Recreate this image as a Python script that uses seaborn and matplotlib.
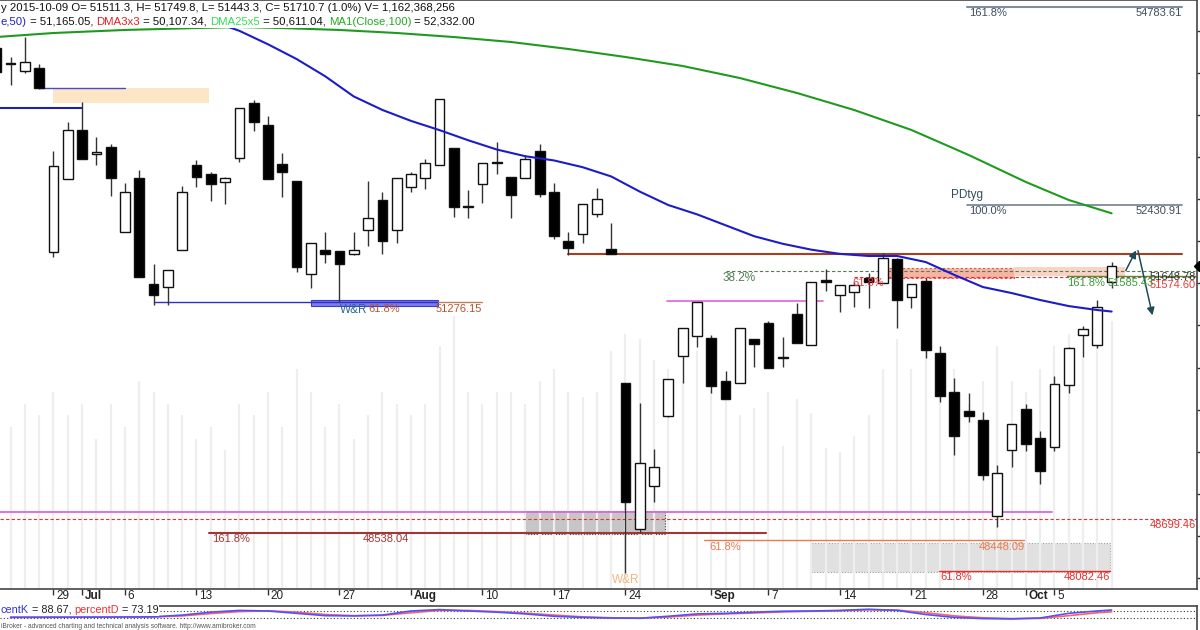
import numpy as np
import pandas as pd
import seaborn as sns
import matplotlib.pyplot as plt
from matplotlib import transforms
from matplotlib.patches import Rectangle

sns.set_theme(style="white")
plt.rcParams['font.family'] = ['Liberation Sans', 'DejaVu Sans']

# ---- data: daily bars, index 0 = 2015-06-29 (one step per weekday) ----
bar_idx = list(range(-4, 75))
opens = [54296, 54110, 54022, 54058,
         51872, 52739, 53322, 53036, 53120, 52110, 52751, 51492, 51456, 51896,
         52906, 52799, 52704, 52989, 53642, 53381, 52918, 52716, 51611, 51896,
         51884, 51848, 52134, 52490, 52134, 52644, 52751, 52906, 53108, 52419,
         52680, 52941, 52763, 52751, 53072, 52585, 52003, 52086, 52324, 51908,
         50316, 48581, 49092, 49924, 50637, 50874, 50851, 50340, 50316, 50839,
         51029, 50625, 51136, 50767, 51540, 51361, 51397, 51563, 51504, 51789,
         51338, 51528, 50672, 50209, 49983, 49876, 48736, 49520, 50007, 49663,
         49556, 50292, 50886, 50767, 51511.3]
highs = [54331, 54189, 54426, 54106,
         53072, 53417, 53654, 53238, 53155, 52692, 52846, 51730, 51658, 52656,
         52965, 52823, 52763, 53583, 53678, 53488, 53048, 52716, 51979, 52110,
         51884, 52110, 52716, 52585, 52751, 52823, 52977, 53690, 53108, 52609,
         52930, 53179, 52763, 53025, 53155, 52692, 52110, 52442, 52633, 52217,
         50316, 50078, 49532, 50363, 50969, 51278, 50886, 50459, 50969, 50839,
         51053, 50862, 51266, 51516, 51670, 51480, 51516, 51623, 51860, 51801,
         51492, 51563, 50756, 50375, 50197, 49971, 49342, 49829, 50066, 49746,
         50399, 50744, 50993, 51302, 51749.8]
lows = [54011, 53856, 53999, 53809,
        51813, 52739, 52977, 52906, 52538, 52110, 51575, 51243, 51243, 51896,
        52644, 52478, 52442, 52941, 53310, 52739, 52526, 51635, 51445, 51742,
        51278, 51837, 51944, 51848, 51979, 52585, 52621, 52906, 52288, 52276,
        52454, 52799, 52276, 52751, 52526, 52027, 51837, 51979, 52288, 51848,
        48059, 48534, 48902, 49912, 50316, 50744, 50197, 50126, 50316, 50506,
        50494, 50506, 50791, 50767, 51409, 51159, 51219, 51207, 51504, 50969,
        51207, 50613, 50090, 49461, 49853, 49164, 48605, 49318, 49508, 49116,
        49508, 50197, 50625, 50732, 51443.3]
closes = [54011, 54100, 54129, 53821,
          52894, 53322, 52977, 53060, 52751, 52585, 51575, 51361, 51658, 52585,
          52763, 52680, 52751, 53583, 53417, 52739, 52823, 51694, 51979, 51848,
          51730, 51896, 52276, 52003, 52751, 52799, 52930, 53690, 52407, 52410,
          52930, 52935, 52549, 52977, 52561, 52062, 51920, 52442, 52502, 51848,
          48902, 49366, 49318, 50363, 50969, 51278, 50280, 50126, 50969, 50779,
          50494, 50615, 50791, 51516, 51516, 51480, 51480, 51516, 51801, 51302,
          51492, 50708, 50162, 49686, 49924, 49223, 49247, 49829, 49591, 49271,
          50304, 50732, 50957, 51219, 51710.7]
# volume, billions
volume = [0.75, 0.70, 0.80, 0.75,
          0.85, 0.75, 0.80, 0.65, 0.80, 0.70, 0.90, 0.85, 0.80, 0.75,
          0.65, 0.70, 0.60, 0.80, 0.75, 0.85, 0.70, 0.95, 0.85, 0.70,
          0.80, 0.65, 0.75, 0.85, 0.80, 0.75, 0.80, 1.05, 1.18, 0.85,
          0.80, 0.85, 0.85, 0.80, 0.90, 0.95, 0.85, 0.83, 0.85, 1.03,
          1.10, 1.08, 0.99, 0.95, 0.90, 1.03, 0.86, 0.83, 0.75, 0.78,
          0.85, 0.62, 0.82, 0.76, 0.61, 0.59, 0.66, 0.75, 0.95, 1.08,
          0.95, 1.10, 1.00, 0.95, 0.80, 0.90, 1.05, 0.90, 0.85, 0.95,
          1.05, 1.10, 1.00, 1.05, 1.16]

# moving averages (read at selected bars)
ma50_idx = [12, 13, 15, 17, 19, 21, 23, 25, 27, 29, 31, 33, 35, 37, 39, 41, 43,
            45, 47, 49, 51, 53, 55, 57, 59, 61, 63, 65, 67, 69, 71, 73, 74]
ma50 = [54560, 54500, 54340, 54165, 53960, 53720, 53560, 53430, 53320, 53200,
        53090, 53010, 52960, 52880, 52770, 52590, 52430, 52320, 52190, 52060,
        51970, 51900, 51850, 51825, 51825, 51753, 51600, 51456, 51385, 51302,
        51230, 51183, 51165.05]
ma100_idx = [-4, -3, 0, 5, 10, 13, 16, 20, 24, 28, 32, 36, 40, 44, 48, 52, 56,
             60, 64, 68, 71, 74]
ma100 = [54426, 54438, 54474, 54510, 54533, 54545, 54533, 54510, 54474, 54426,
         54367, 54284, 54189, 54082, 53939, 53761, 53559, 53322, 53025, 52704,
         52490, 52332]

# stochastic
stoch_idx = [-3, 4, 7, 9, 11, 13, 15, 17, 19, 21, 23, 25, 27, 29, 31, 33, 35, 37,
             39, 41, 43, 45, 47, 49, 51, 53, 55, 57, 59, 61, 63, 65, 67, 69, 71, 73, 74]
pct_k = [25, 28, 30, 45, 70, 85, 80, 60, 40, 38, 45, 80, 92, 80, 70, 55, 35, 25,
         20, 18, 35, 55, 60, 70, 78, 80, 85, 95, 85, 50, 25, 15, 12, 20, 60, 80, 88.67]
pct_d = [28, 27, 29, 38, 58, 75, 82, 70, 50, 40, 42, 65, 85, 85, 75, 62, 45, 30,
         22, 19, 28, 45, 55, 63, 72, 78, 82, 90, 88, 65, 38, 22, 15, 17, 40, 65, 73.19]

# date axis
date_idx = [0, 2, 5, 10, 15, 20, 25, 30, 35, 40, 46, 50, 55, 60, 65, 68, 70]
date_lbl = ['29', 'Jul', '6', '13', '20', '27', 'Aug', '10', '17', '24', 'Sep',
            '7', '14', '21', '28', 'Oct', '5']

df = pd.DataFrame({'i': bar_idx, 'open': opens, 'high': highs, 'low': lows,
                   'close': closes, 'vol': volume})

# ---- figure ----
W, H = 1200, 630
fig = plt.figure(figsize=(12, 6.3), dpi=100)
ax = fig.add_axes([0, (H - 589) / H, 1197 / W, 589 / H])
ax_ind = fig.add_axes([0, 0, 1197 / W, 24 / H])

XL = (-3.74, 79.97)
ax.set_xlim(*XL)
ax.set_ylim(47869, 54866)

# volume in the background
blend = transforms.blended_transform_factory(ax.transData, ax.transAxes)
vol_top = 2.545
ax.vlines(df['i'], 0, df['vol'] / vol_top, transform=blend, colors='#eeeeee',
          lw=1.6, zorder=1.5)

# shaded zones
def zone(x0, x1, p0, p1, fc, ec='none', z=1, ls='-'):
    ax.add_patch(Rectangle((x0, p0), x1 - x0, p1 - p0, facecolor=fc,
                           edgecolor=ec, lw=0.8, ls=ls, zorder=z))

zone(0.0, 10.9, 53642, 53821, '#fde6c6')
zone(18.0, 26.9, 51231, 51302, '#7c7cee', ec='#3c3cd0', z=2)
zone(57.8, 67.2, 51560, 51680, '#f5b4a4', ec='#e05050', ls=(0, (2, 2)), z=1.6)
zone(67.2, 74.9, 51590, 51700, '#fad2c6', z=1.6)
zone(33.0, 42.8, 48522, 48795, '#c6c6c6', ec='#404040', ls=(0, (1, 1.5)))
zone(53.0, 73.9, 48071, 48415, '#e1e1e1', ec='#a0a0a0', ls=(0, (1, 1.5)))

# horizontal studies
def hline(level, x0, x1, color, lw=1.0, ls='-', z=2):
    ax.plot([x0, x1], [level, level], color=color, lw=lw, ls=ls, zorder=z)

hline(54783.61, 63.9, 78.9, '#7d8d9b', 1.5)
hline(52430.91, 63.9, 78.9, '#6f8090', 1.2)
hline(53583, XL[0], 2.0, '#2020b0', 1.5)
hline(53821, -1.0, 5.0, '#4a4ad0', 1.0)
hline(51276.15, 7.0, 26.9, '#3030c0', 1.0)
hline(51276.15, 26.9, 30.0, '#c08060', 1.0)
hline(51848, 36.0, 78.9, '#a3401e', 1.5)
hline(51648.78, 47.0, 79.8, '#4f7f4f', 0.8, (0, (3, 2)))
hline(51574.60, 56.0, 79.8, '#e53030', 0.8, (0, (3, 2)))
hline(51585.43, 70.9, 79.8, '#3a9a3a', 1.0)
hline(51285, 42.9, 53.8, '#e070e0', 1.3)
hline(48785, XL[0], 69.8, '#dd66dd', 1.3)
hline(48699.46, XL[0], XL[1], '#e53030', 0.8, (0, (3, 2)))
hline(48538.04, 10.9, 49.8, '#a33535', 1.5)
hline(48448.09, 45.5, 67.9, '#ea7a50', 1.0)
hline(48082.46, 61.9, 73.9, '#e53030', 1.0)

# candles
up = df['close'] >= df['open']
ax.vlines(df['i'], df['low'], df['high'], color='#333333', lw=1, zorder=3)
body_lo = df[['open', 'close']].min(axis=1)
body_h = (df['close'] - df['open']).abs().clip(lower=12)
ax.bar(df['i'], body_h, bottom=body_lo, width=0.68,
       color=np.where(up, 'white', 'black'), edgecolor='#111111',
       linewidth=1, zorder=4)

# moving averages
sns.lineplot(x=ma100_idx, y=ma100, ax=ax, color='#1f9a1f', lw=1.5, zorder=5)
sns.lineplot(x=ma50_idx, y=ma50, ax=ax, color='#1c1cc8', lw=1.5, zorder=5)

# projection arrows
arr = dict(arrowstyle='-|>', color='#1f4a5a', lw=1.1, mutation_scale=11)
ax.annotate('', xy=(75.8, 51920), xytext=(74.9, 51623), arrowprops=arr, zorder=6)
ax.annotate('', xy=(76.9, 51088), xytext=(75.8, 51920), arrowprops=arr, zorder=6)

# labels on the studies
def label(x, level, s, color, ha='left', va='top', dy=-1.0, size=8):
    ax.annotate(s, xy=(x, level), xytext=(0, dy), textcoords='offset points',
                ha=ha, va=va, color=color, fontsize=size, zorder=7)

label(64.0, 54783.61, '161.8%', '#3d4d5d')
label(78.9, 54783.61, '54783.61', '#3d4d5d', ha='right')
label(62.8, 52430.91, 'PDtyg', '#2f4f5f', va='bottom', dy=3, size=8.5)
label(64.0, 52430.91, '100.0%', '#3d4d5d')
label(78.9, 52430.91, '52430.91', '#3d4d5d', ha='right')
label(20.0, 51276.15, 'W&R', '#2e6890', size=8.5)
label(22.0, 51276.15, '61.8%', '#b5552e')
label(26.7, 51276.15, '51276.15', '#b5552e')
label(46.8, 51648.78, '38.2%', '#4f7f4f', size=8.5)
label(79.9, 51648.78, '51648.78', '#333333', ha='right')
label(55.9, 51574.60, '61.8%', '#ee3b3b')
label(79.9, 51574.60, '51574.60', '#ee3b3b', ha='right', dy=-2)
label(70.9, 51585.43, '161.8%', '#3a9a3a')
label(73.7, 51585.43, '51585.43', '#3a9a3a')
label(79.9, 48699.46, '48699.46', '#e53030', ha='right')
label(11.1, 48538.04, '161.8%', '#a33535')
label(21.6, 48538.04, '48538.04', '#a33535')
label(45.9, 48448.09, '61.8%', '#ea7a50')
label(67.9, 48448.09, '48448.09', '#ea7a50', ha='right')
label(62.0, 48082.46, '61.8%', '#e53030')
label(73.9, 48082.46, '48082.46', '#e53030', ha='right')
ax.text(40.0, 47976, 'W&R', color='#f5b57e', fontsize=8.5, ha='center',
        va='center', zorder=7)

# last price marker on the right edge
ax.plot([80.1], [closes[-1]], marker='D', ms=5, color='black', clip_on=False, zorder=8)

# axes styling
for side in ['top', 'right', 'bottom']:
    ax.spines[side].set_color('#444444')
    ax.spines[side].set_linewidth(1.2)
ax.spines['left'].set_visible(False)
ax.yaxis.tick_right()
ax.set_yticks(np.arange(48000, 55000, 500))
ax.tick_params(axis='y', direction='out', length=4, width=1, color='#333333',
               labelright=False, right=True)
ax.set_xticks(date_idx)
ax.tick_params(axis='x', direction='out', length=4, width=1, color='#333333',
               labelbottom=False, bottom=True)
ax.set_xlabel('')
ax.set_ylabel('')
for i, s in zip(date_idx, date_lbl):
    bold = s in ('Jul', 'Aug', 'Sep', 'Oct')
    ax.annotate(s, xy=(i, 0), xycoords=blend, xytext=(2, -1.0),
                textcoords='offset points', ha='left', va='top', fontsize=8.5,
                fontweight='bold' if bold else 'normal', color='#222222',
                annotation_clip=False)

# header lines
def chain(axis, x, y, parts, size):
    t = axis.annotate(parts[0][0], xy=(x, y), xycoords='axes fraction',
                      ha='left', va='center', color=parts[0][1], fontsize=size,
                      zorder=9, bbox=dict(fc='white', ec='none', pad=0.5))
    for s, c in parts[1:]:
        t = axis.annotate(s, xy=(1, 0.5), xycoords=t, ha='left', va='center',
                          color=c, fontsize=size, zorder=9,
                          bbox=dict(fc='white', ec='none', pad=0.5))

chain(ax, 0.0008, 1 - 8 / 589,
      [('y 2015-10-09 O= 51511.3, H= 51749.8, L= 51443.3, C= 51710.7 (1.0%) V= 1,162,368,256', '#111111')], 8.2)
chain(ax, 0.0008, 1 - 22 / 589,
      [('e,50)', '#2020c0'), (' = 51,165.05, ', '#111111'),
       ('DMA3x3', '#e02020'), (' = 50,107.34, ', '#111111'),
       ('DMA25x5', '#33dd55'), (' = 50,611.04, ', '#111111'),
       ('MA1(Close,100)', '#22aa22'), (' = 52,332.00', '#111111')], 8.2)

# stochastic panel
ax_ind.set_xlim(*XL)
ax_ind.set_ylim(-82.9, 122.9)
ax_ind.axhline(80, color='#333333', lw=0.8, ls=(0, (1, 2)))
ax_ind.axhline(20, color='#333333', lw=0.8, ls=(0, (1, 2)))
sns.lineplot(x=stoch_idx, y=pct_d, ax=ax_ind, color='#ff6060', lw=1.2)
sns.lineplot(x=stoch_idx, y=pct_k, ax=ax_ind, color='#5050ff', lw=1.2)
ax_ind.set_xticks([])
ax_ind.set_yticks([])
ax_ind.set_xlabel('')
ax_ind.set_ylabel('')
for side in ['left', 'bottom']:
    ax_ind.spines[side].set_visible(False)
for side in ['top', 'right']:
    ax_ind.spines[side].set_color('#444444')
    ax_ind.spines[side].set_linewidth(1.2)
chain(ax_ind, 0.0005, 1 - 4 / 24,
      [('centK', '#3030e0'), (' = 88.67, ', '#222222'),
       ('percentD', '#ee3030'), (' = 73.19', '#222222')], 7.8)

fig.text(1 / W, 1 - 626 / H,
         'iBroker - advanced charting and technical analysis software. http://www.amibroker.com',
         fontsize=4.8, color='#555555', va='center', ha='left')

fig.savefig('out.png', dpi=100)
